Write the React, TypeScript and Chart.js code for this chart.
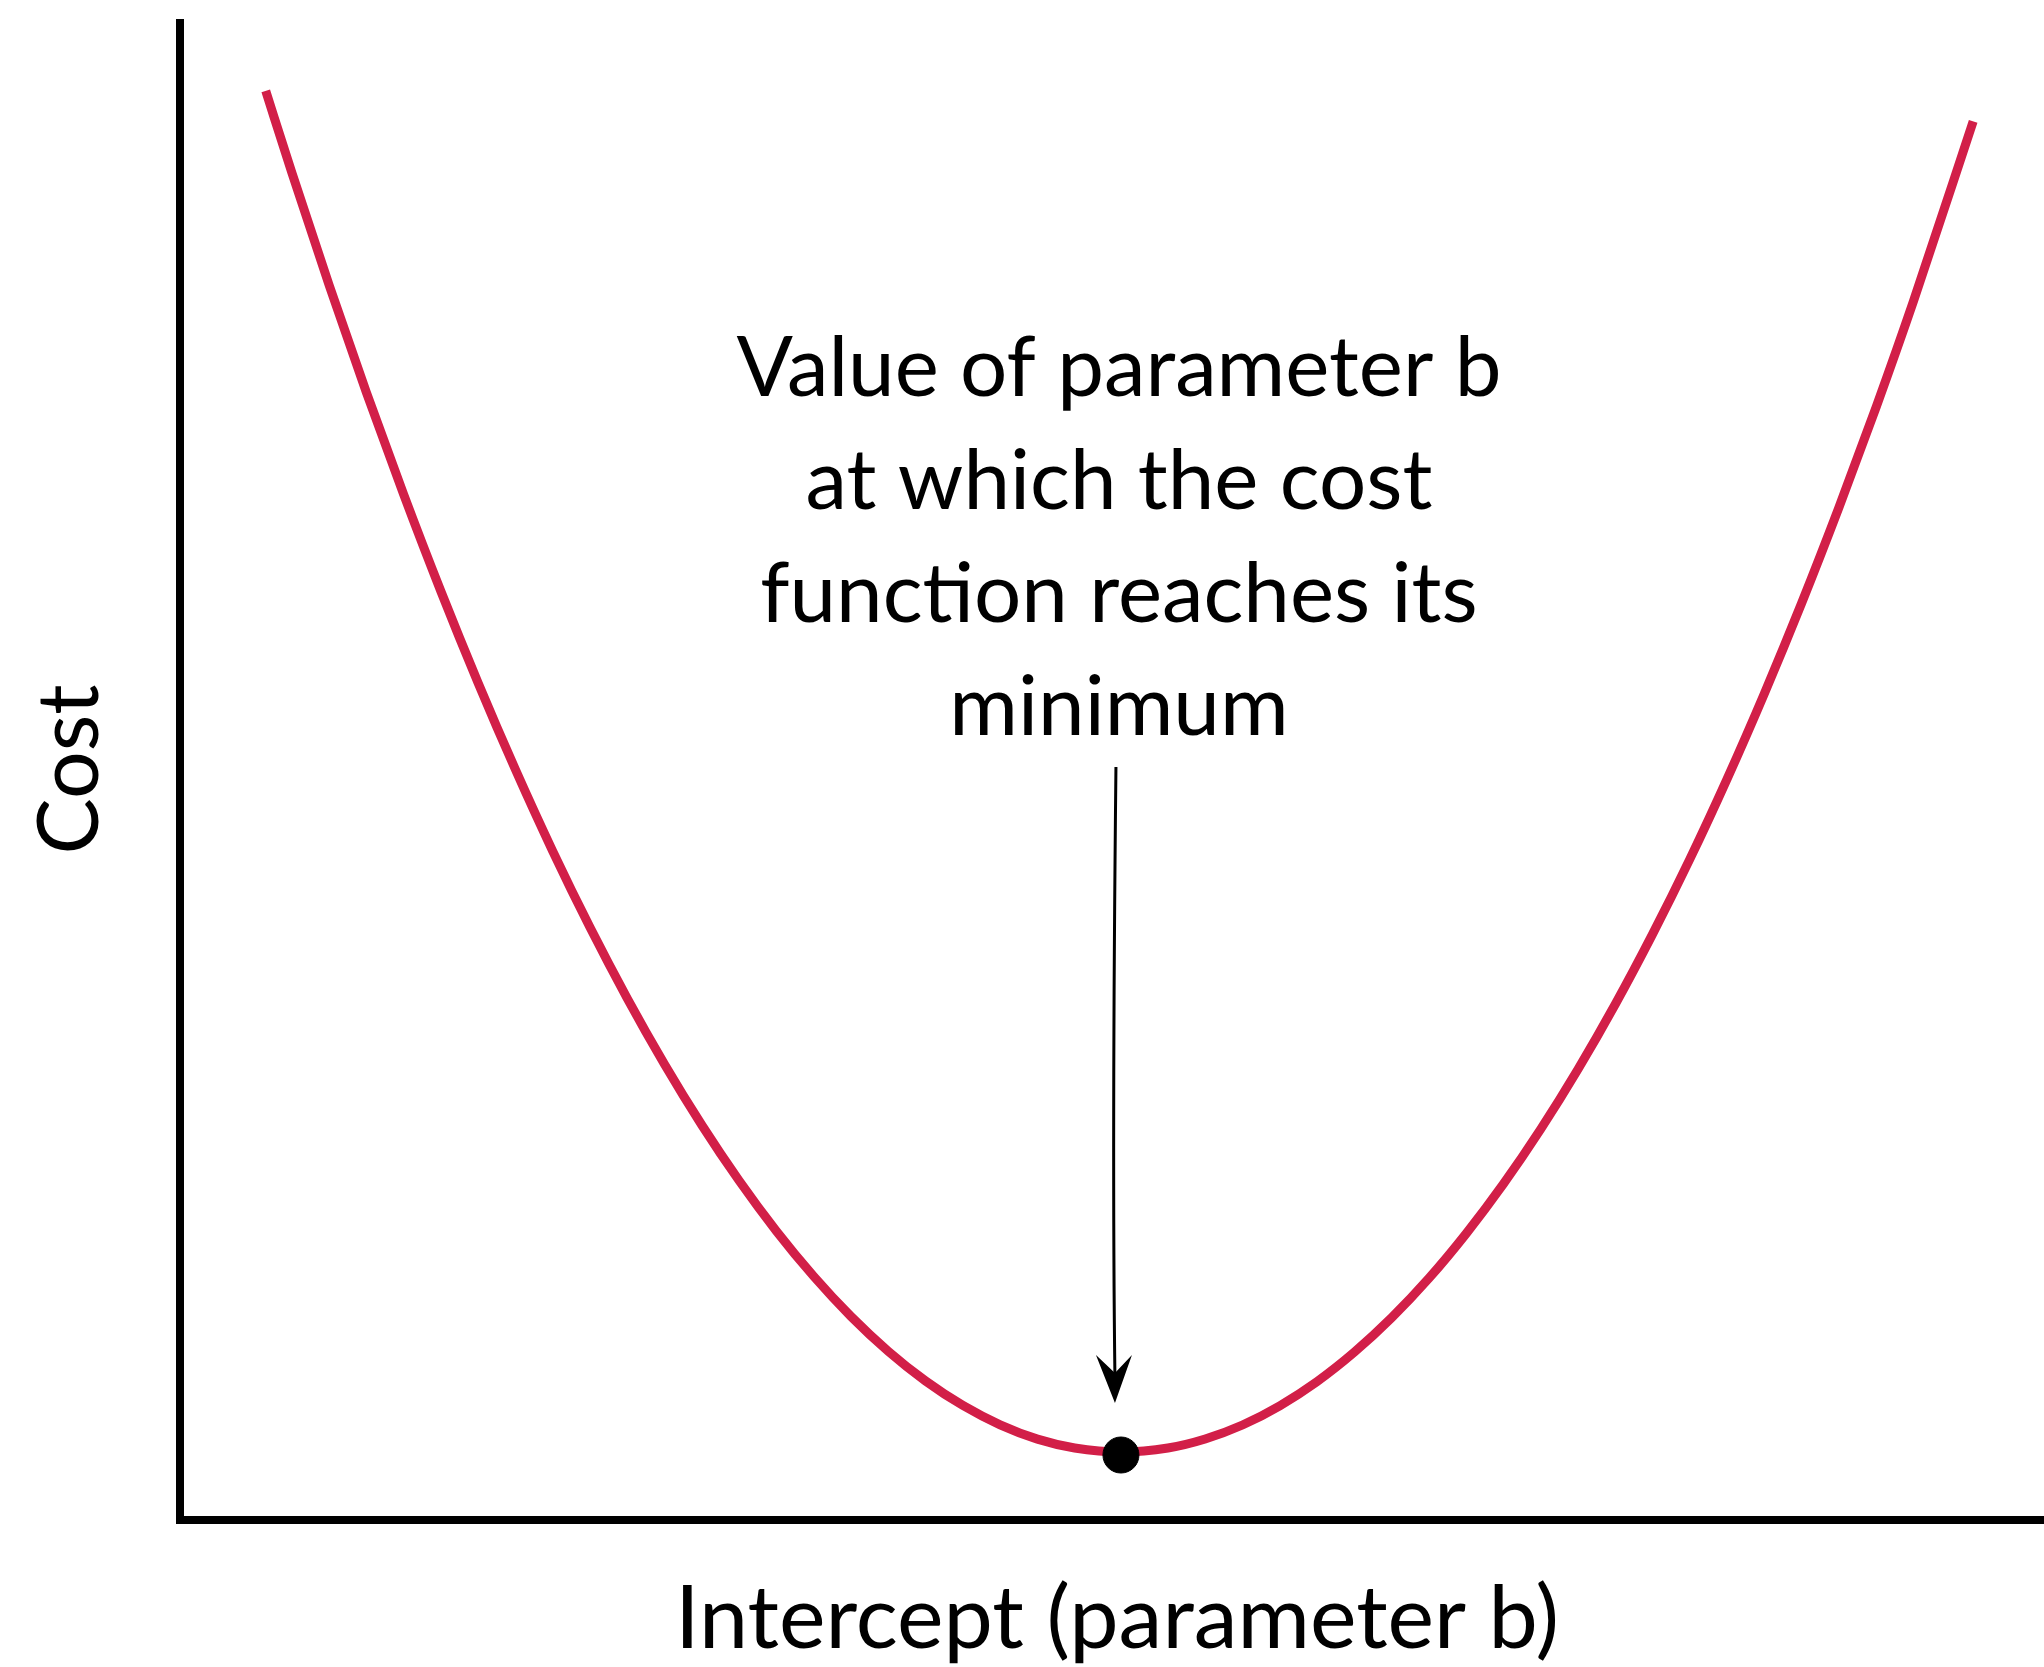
import React, { useEffect, useRef } from "react";
import { Chart, registerables } from "chart.js";

Chart.register(...registerables);

// Cost curve (intercept b in arbitrary units 0..10, cost 0..10)
const curveB = [
  0.46, 0.6, 0.8, 1.0, 1.2, 1.4, 1.6, 1.8, 2.0, 2.2, 2.4, 2.6, 2.8, 3.0, 3.2, 3.4, 3.6, 3.8, 4.0, 4.2, 4.4, 4.6, 4.8,
  5.05,
  5.3, 5.5, 5.7, 5.9, 6.1, 6.3, 6.5, 6.7, 6.9, 7.1, 7.3, 7.5, 7.7, 7.9, 8.1, 8.3, 8.5, 8.7, 8.9, 9.1, 9.3, 9.62,
];
const curveCost = [
  9.521, 8.976, 8.227, 7.512, 6.832, 6.186, 5.575, 4.998, 4.455, 3.947, 3.474, 3.035, 2.63, 2.26, 1.924, 1.623,
  1.356, 1.124, 0.926, 0.763, 0.634, 0.539, 0.48,
  0.453,
  0.48, 0.54, 0.633, 0.761, 0.922, 1.118, 1.347, 1.61, 1.908, 2.239, 2.604, 3.003, 3.436, 3.903, 4.403, 4.938,
  5.507, 6.109, 6.746, 7.416, 8.121, 9.318,
];
const minimumB = [5.048];
const minimumCost = [0.433];

const xTitle = "Intercept (parameter b)";
const yTitle = "Cost";
const annotationLines = [
  "Value of parameter b",
  "at which the cost",
  "function reaches its",
  "minimum",
];

const CURVE_COLOR = "#D21F48";
const FONT = "Lato, 'Open Sans', sans-serif";

function fitSize(ctx: CanvasRenderingContext2D, text: string, width: number) {
  ctx.font = `100px ${FONT}`;
  const w = ctx.measureText(text).width;
  return (100 * width) / w;
}

const decorPlugin = {
  id: "decor",
  beforeDatasetsDraw(chart: any) {
    const { ctx, chartArea } = chart;
    ctx.save();
    ctx.strokeStyle = "#000";
    ctx.lineWidth = 8;
    ctx.lineCap = "butt";
    ctx.beginPath();
    ctx.moveTo(chartArea.left, chartArea.top);
    ctx.lineTo(chartArea.left, chartArea.bottom + 4);
    ctx.stroke();
    ctx.beginPath();
    ctx.moveTo(chartArea.left - 4, chartArea.bottom);
    ctx.lineTo(chartArea.right, chartArea.bottom);
    ctx.stroke();
    ctx.restore();
  },
  afterDatasetsDraw(chart: any) {
    const { ctx, chartArea, scales } = chart;
    const mx = scales.x.getPixelForValue(minimumB[0]);
    const my = scales.y.getPixelForValue(minimumCost[0]);
    ctx.save();
    ctx.fillStyle = "#000";
    ctx.textBaseline = "alphabetic";
    ctx.textAlign = "center";

    // x title
    const xs = fitSize(ctx, xTitle, 884);
    ctx.font = `${xs}px ${FONT}`;
    ctx.fillText(xTitle, (chartArea.left + chartArea.right) / 2 + 5, chartArea.bottom + 128);

    // y title
    const ys = fitSize(ctx, yTitle, 170);
    ctx.save();
    ctx.translate(chartArea.left - 82, (chartArea.top + chartArea.bottom) / 2);
    ctx.rotate(-Math.PI / 2);
    ctx.font = `${ys}px ${FONT}`;
    ctx.fillText(yTitle, 0, 0);
    ctx.restore();

    // annotation
    const as = fitSize(ctx, annotationLines[0], 765);
    ctx.font = `${as}px ${FONT}`;
    const cx = mx - 2;
    const firstBase = 396;
    const gap = 113;
    annotationLines.forEach((t, i) => ctx.fillText(t, cx, firstBase + i * gap));

    // arrow
    const tipX = mx - 6;
    const tipY = my - 52;
    const startY = 767;
    ctx.strokeStyle = "#000";
    ctx.lineWidth = 3;
    ctx.beginPath();
    ctx.moveTo(mx - 5, startY);
    ctx.quadraticCurveTo(mx - 9, (startY + tipY) / 2 + 60, tipX, tipY - 25);
    ctx.stroke();
    ctx.beginPath();
    ctx.moveTo(tipX, tipY);
    ctx.lineTo(tipX - 19, tipY - 48);
    ctx.lineTo(tipX, tipY - 30);
    ctx.lineTo(tipX + 17, tipY - 48);
    ctx.closePath();
    ctx.fill();
    ctx.restore();
  },
};

export default function App() {
  const ref = useRef<HTMLCanvasElement | null>(null);
  useEffect(() => {
    document.body.style.margin = "0";
    document.body.style.overflow = "hidden";
    const canvas = ref.current!;
    const chart = new Chart(canvas, {
      type: "line",
      data: {
        datasets: [
          {
            type: "scatter",
            data: minimumB.map((b, i) => ({ x: b, y: minimumCost[i] })),
            backgroundColor: "#000",
            borderColor: "#000",
            pointRadius: 18,
            pointHoverRadius: 18,
            order: 0,
          } as any,
          {
            data: curveB.map((b, i) => ({ x: b, y: curveCost[i] })),
            borderColor: CURVE_COLOR,
            borderWidth: 9,
            borderCapStyle: "butt",
            borderJoinStyle: "round",
            pointRadius: 0,
            cubicInterpolationMode: "monotone",
            fill: false,
            order: 1,
          },
        ],
      },
      options: {
        responsive: false,
        animation: false,
        events: [],
        layout: { autoPadding: false, padding: { left: 180, top: 19, right: 0, bottom: 147 } },
        scales: {
          x: { type: "linear", min: 0, max: 10, display: false },
          y: { type: "linear", min: 0, max: 10, display: false },
        },
        plugins: { legend: { display: false }, tooltip: { enabled: false } },
      },
      plugins: [decorPlugin],
    });
    return () => chart.destroy();
  }, []);
  return (
    <div style={{ position: "absolute", left: 0, top: 0, width: 2044, height: 1667, background: "#fff", overflow: "hidden" }}>
      <canvas ref={ref} width={2044} height={1667} style={{ display: "block" }} />
    </div>
  );
}
